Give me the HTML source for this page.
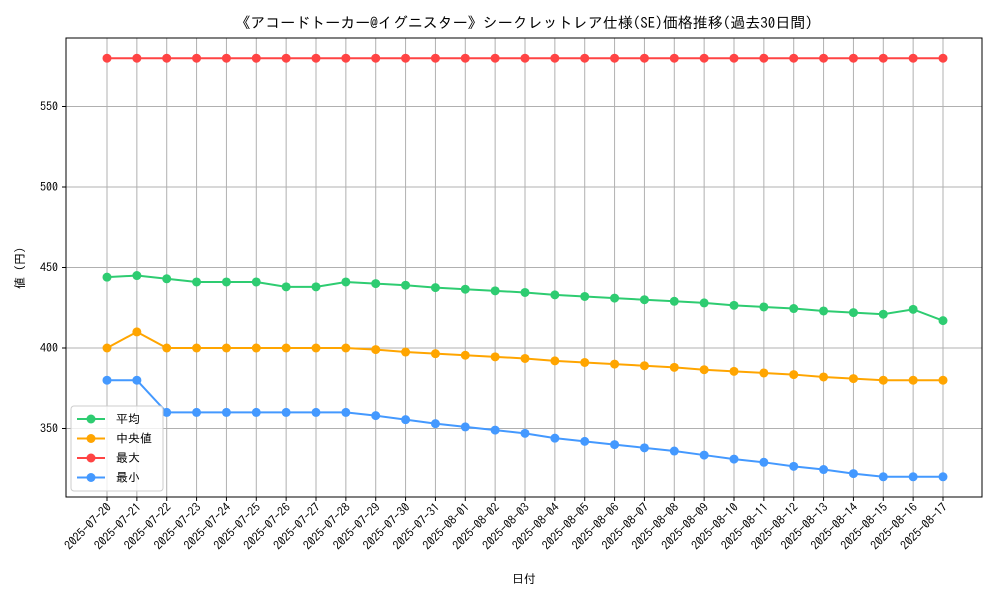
<!DOCTYPE html>
<html><head><meta charset="utf-8"><style>
body{margin:0;background:#fff;font-family:"IPAGothic","Noto Sans CJK JP",sans-serif;}
svg text{font-family:"IPAGothic","Noto Sans CJK JP",sans-serif;fill:#000;}
</style></head><body>
<svg id="chart" width="1000" height="600" xmlns="http://www.w3.org/2000/svg">
<rect width="1000" height="600" fill="#fff"/>
<text x="524" y="28" font-size="15" text-anchor="middle">《アコードトーカー@イグニスター》シークレットレア仕様(SE)価格推移(過去30日間)</text>
<g id="grid"></g>
<g id="series"></g>
<rect x="66" y="38" width="916" height="459" fill="none" stroke="#000" stroke-width="1"/>
<g id="axes"></g>
<text x="524" y="583" font-size="12" text-anchor="middle">日付</text>
<text x="24" y="268" font-size="12" text-anchor="middle" transform="rotate(-90 24 268)">値 (円)</text>
<g id="legend">
<rect x="71" y="406" width="92" height="85" fill="#fff" fill-opacity="0.8" stroke="#ccc" rx="3"/>
</g>
</svg>
<script>
const dates=["2025-07-20","2025-07-21","2025-07-22","2025-07-23","2025-07-24","2025-07-25","2025-07-26","2025-07-27","2025-07-28","2025-07-29","2025-07-30","2025-07-31","2025-08-01","2025-08-02","2025-08-03","2025-08-04","2025-08-05","2025-08-06","2025-08-07","2025-08-08","2025-08-09","2025-08-10","2025-08-11","2025-08-12","2025-08-13","2025-08-14","2025-08-15","2025-08-16","2025-08-17"];
const meanVals=[444,445,443,441,441,441,438,438,441,440,439,437.5,436.5,435.5,434.5,433,432,431,430,429,428,426.5,425.5,424.5,423,422,421,424,417];
const medianVals=[400,410,400,400,400,400,400,400,400,399,397.5,396.5,395.5,394.5,393.5,392,391,390,389,388,386.5,385.5,384.5,383.5,382,381,380,380,380];
const maxVals=[580,580,580,580,580,580,580,580,580,580,580,580,580,580,580,580,580,580,580,580,580,580,580,580,580,580,580,580,580];
const minVals=[380,380,360,360,360,360,360,360,360,358,355.5,353,351,349,347,344,342,340,338,336,333.5,331,329,326.5,324.5,322,320,320,320];
const yTicks=[350,400,450,500,550];
const seriesNames=["平均","中央値","最大","最小"];
const NS="http://www.w3.org/2000/svg";
const xs=i=>107+i*(943-107)/(dates.length-1);
const ys=v=>348-(v-400)*1.61;
function mk(tag,attrs,parent){const e=document.createElementNS(NS,tag);for(const k in attrs)e.setAttribute(k,attrs[k]);parent.appendChild(e);return e;}
const grid=document.getElementById('grid'),axes=document.getElementById('axes'),ser=document.getElementById('series'),leg=document.getElementById('legend');
dates.forEach((d,i)=>{
 const x=xs(i);
 const gl=mk('line',{x1:x,x2:x,y1:38,y2:497,stroke:'#b0b0b0','stroke-width':1},grid);
 
 
 mk('line',{x1:x,x2:x,y1:497,y2:501,stroke:'#000'},axes);
 const t=mk('text',{x:x+5,y:508,'font-size':12,'text-anchor':'end',transform:`rotate(-45 ${x+5} 508)`},axes);
 t.textContent=d;
 
 
});
yTicks.forEach(v=>{
 const y=ys(v);
 const gl=mk('line',{x1:66,x2:982,y1:y,y2:y,stroke:'#b0b0b0','stroke-width':1},grid);
 
 
 mk('line',{x1:62,x2:66,y1:y,y2:y,stroke:'#000'},axes);
 const t=mk('text',{x:58,y:y+4,'font-size':12,'text-anchor':'end'},axes);
 t.textContent=v;
 
 
});
const data=[meanVals,medianVals,maxVals,minVals];
const colors=["#2ecc71","#ffa500","#ff4444","#4499ff"];
const keys=["mean","median","max","min"];
data.forEach((vals,s)=>{
 const g=mk('g',{},ser);
 
 
 mk('polyline',{points:vals.map((v,i)=>xs(i)+','+ys(v)).join(' '),fill:'none',stroke:colors[s],'stroke-width':2},g);
 vals.forEach((v,i)=>{
  const c=mk('circle',{cx:xs(i),cy:ys(v),r:4.5,fill:colors[s]},g);
  
  
 });
 const ly=419+s*19.5;
 const e=mk('g',{},leg);
 
 
 mk('line',{x1:77,x2:105,y1:ly,y2:ly,stroke:colors[s],'stroke-width':2},e);
 mk('circle',{cx:91,cy:ly,r:4.5,fill:colors[s]},e);
 const t=mk('text',{x:116,y:ly+4,'font-size':12},e);
 t.textContent=seriesNames[s];
});
</script>
</body></html>
